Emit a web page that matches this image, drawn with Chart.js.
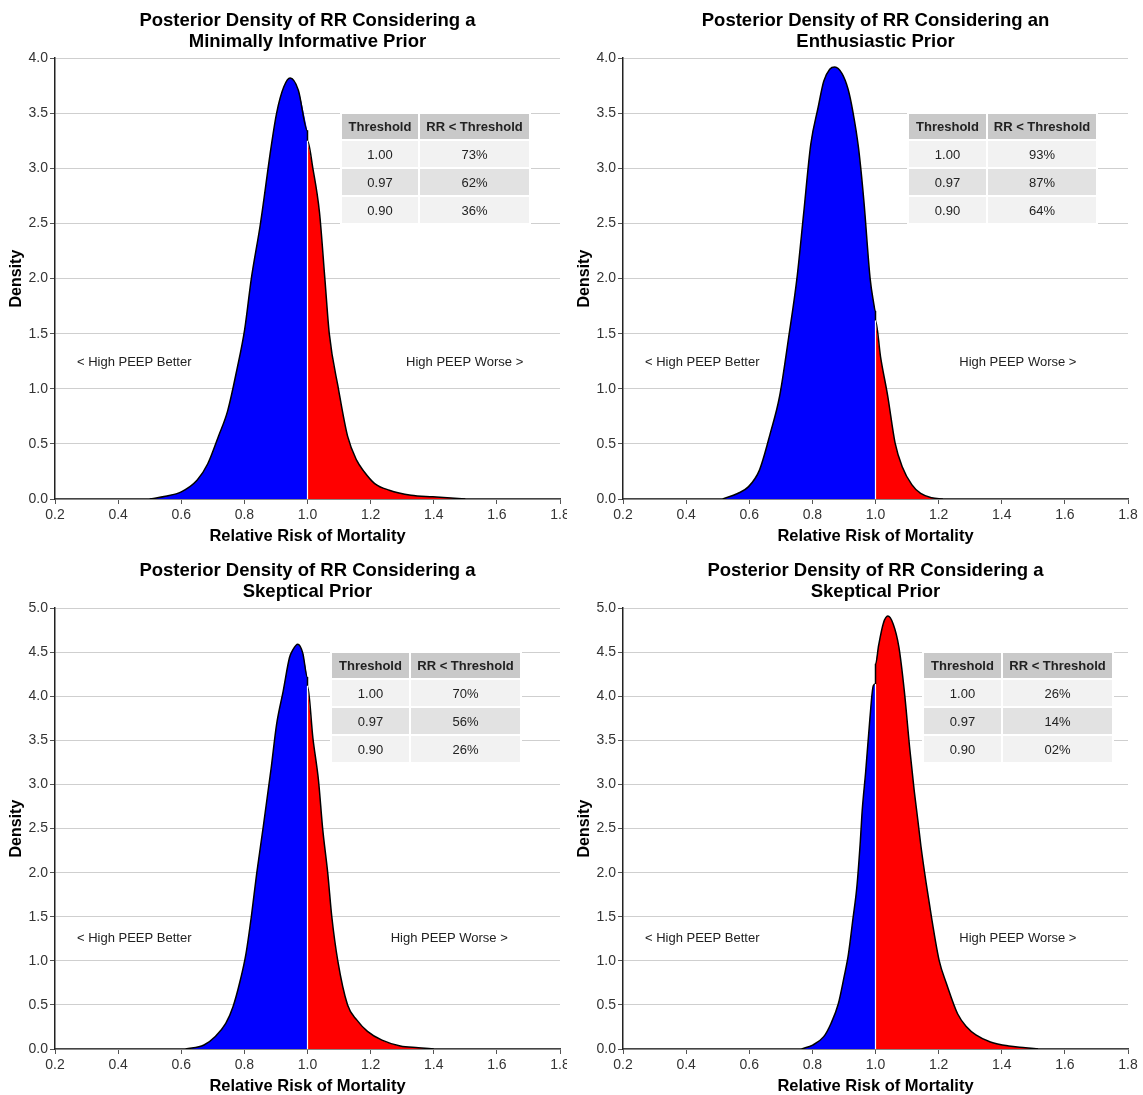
<!DOCTYPE html>
<html>
<head>
<meta charset="utf-8">
<script src="https://cdn.jsdelivr.net/npm/chart.js@4.4.1/dist/chart.umd.min.js"></script>
<style>
  body { margin: 0; background: #fff; font-family: "Liberation Sans", Arial, sans-serif; }
  #page { position: relative; width: 1143px; height: 1095px; overflow: hidden; }
  .panel { position: absolute; overflow: hidden; }
  .panel canvas { position: absolute; left: 0; top: 0; }
  table.thr { position: absolute; border-collapse: collapse; font-size: 13px; color: #222; }
  table.thr td, table.thr th { border: 2px solid #fff; text-align: center; padding: 0; }
  table.thr th { background: #c9c9c9; font-weight: bold; height: 25px; }
  table.thr td { height: 26px; }
  table.thr tr.r0 td { background: #f2f2f2; }
  table.thr tr.r1 td { background: #e2e2e2; }
</style>
</head>
<body>
<div id="page"></div>
<script>
// axis ticks
const xTickVals = [0.2, 0.4, 0.6, 0.8, 1.0, 1.2, 1.4, 1.6, 1.8];
const yTicksTop = [0, 0.5, 1.0, 1.5, 2.0, 2.5, 3.0, 3.5, 4.0];
const yTicksBottom = [0, 0.5, 1.0, 1.5, 2.0, 2.5, 3.0, 3.5, 4.0, 4.5, 5.0];

// panel 1: minimally informative prior
const blue1X = [0.50, 0.55, 0.60, 0.65, 0.684, 0.718, 0.747, 0.776, 0.801, 0.822, 0.851, 0.885, 0.902, 0.925, 0.945, 0.971, 1.0];
const blue1Y = [0.00, 0.025, 0.065, 0.17, 0.32, 0.57, 0.80, 1.17, 1.54, 2.0, 2.5, 3.2, 3.5, 3.74, 3.82, 3.71, 3.34];
const red1X = [1.0, 1.017, 1.038, 1.055, 1.069, 1.098, 1.127, 1.156, 1.179, 1.213, 1.259, 1.328, 1.397, 1.50];
const red1Y = [3.25, 3.0, 2.6, 2.0, 1.5, 1.0, 0.57, 0.35, 0.25, 0.14, 0.08, 0.035, 0.02, 0.0];

// panel 2: enthusiastic prior
const blue2X = [0.516, 0.563, 0.597, 0.632, 0.667, 0.696, 0.725, 0.751, 0.772, 0.795, 0.818, 0.836, 0.855, 0.871, 0.894, 0.913, 0.928, 0.946, 0.963, 0.983, 0.993, 1.0];
const blue2Y = [0.0, 0.05, 0.11, 0.26, 0.60, 0.93, 1.47, 2.0, 2.58, 3.22, 3.55, 3.79, 3.90, 3.92, 3.86, 3.72, 3.52, 3.19, 2.71, 2.0, 1.80, 1.70];
const red2X = [1.0, 1.016, 1.039, 1.062, 1.085, 1.115, 1.143, 1.178, 1.213];
const red2Y = [1.62, 1.29, 0.93, 0.51, 0.29, 0.13, 0.05, 0.012, 0.0];

// panel 3: skeptical prior (centred below 1)
const blue3X = [0.614, 0.672, 0.707, 0.741, 0.764, 0.787, 0.805, 0.822, 0.839, 0.859, 0.885, 0.902, 0.923, 0.943, 0.954, 0.969, 0.985, 1.0];
const blue3Y = [0.0, 0.045, 0.14, 0.29, 0.48, 0.78, 1.08, 1.5, 1.99, 2.5, 3.19, 3.68, 4.06, 4.44, 4.53, 4.59, 4.49, 4.21];
const red3X = [1.0, 1.017, 1.035, 1.048, 1.064, 1.077, 1.096, 1.127, 1.156, 1.19, 1.236, 1.294, 1.351, 1.40];
const red3Y = [4.12, 3.53, 3.04, 2.5, 2.0, 1.5, 1.0, 0.5, 0.33, 0.2, 0.1, 0.034, 0.015, 0.0];

// panel 4: skeptical prior (centred above 1)
const blue4X = [0.766, 0.801, 0.836, 0.859, 0.882, 0.900, 0.914, 0.929, 0.941, 0.952, 0.958, 0.969, 0.981, 0.993, 1.0];
const blue4Y = [0.0, 0.045, 0.14, 0.29, 0.51, 0.81, 1.07, 1.49, 1.84, 2.36, 2.71, 3.15, 3.69, 4.12, 4.14];
const red4X = [1.0, 1.010, 1.025, 1.039, 1.056, 1.074, 1.091, 1.109, 1.123, 1.134, 1.144, 1.161, 1.179, 1.202, 1.225, 1.260, 1.289, 1.318, 1.364, 1.422, 1.475, 1.515];
const red4Y = [4.36, 4.58, 4.83, 4.91, 4.82, 4.56, 4.07, 3.39, 2.92, 2.6, 2.3, 1.87, 1.46, 1.0, 0.74, 0.40, 0.25, 0.16, 0.08, 0.034, 0.015, 0.0];

// threshold tables
const thresholds = ['1.00', '0.97', '0.90'];
const pct1 = ['73%', '62%', '36%'];
const pct2 = ['93%', '87%', '64%'];
const pct3 = ['70%', '56%', '26%'];
const pct4 = ['26%', '14%', '02%'];

const panels = [
  { title: ['Posterior Density of RR Considering a', 'Minimally Informative Prior'],
    bx: blue1X, by: blue1Y, rx: red1X, ry: red1Y, yTicks: yTicksTop, pct: pct1,
    box: { left: 0, top: 0, width: 567 }, table: { left: 340, top: 112, c1: 76, c2: 109 },
    lab: { better: 0.451, worse: 1.498, y: 1.24 } },
  { title: ['Posterior Density of RR Considering an', 'Enthusiastic Prior'],
    bx: blue2X, by: blue2Y, rx: red2X, ry: red2Y, yTicks: yTicksTop, pct: pct2,
    box: { left: 568, top: 0, width: 575 }, table: { left: 339, top: 112, c1: 77, c2: 108 },
    lab: { better: 0.451, worse: 1.451, y: 1.24 } },
  { title: ['Posterior Density of RR Considering a', 'Skeptical Prior'],
    bx: blue3X, by: blue3Y, rx: red3X, ry: red3Y, yTicks: yTicksBottom, pct: pct3,
    box: { left: 0, top: 550, width: 567 }, table: { left: 330, top: 101, c1: 77, c2: 109 },
    lab: { better: 0.451, worse: 1.449, y: 1.25 } },
  { title: ['Posterior Density of RR Considering a', 'Skeptical Prior'],
    bx: blue4X, by: blue4Y, rx: red4X, ry: red4Y, yTicks: yTicksBottom, pct: pct4,
    box: { left: 568, top: 550, width: 575 }, table: { left: 354, top: 101, c1: 77, c2: 109 },
    lab: { better: 0.451, worse: 1.451, y: 1.25 } }
];

Chart.defaults.font.family = '"Liberation Sans", Arial, sans-serif';

function pts(xs, ys) {
  return xs.map((x, i) => ({ x: x, y: ys[i] }));
}

// white line at RR = 1 between the two shaded areas
const splitLine = {
  id: 'splitLine',
  afterDatasetsDraw(chart, args, opts) {
    const { ctx, scales: { x, y } } = chart;
    const top = Math.min(opts.blueEnd, opts.redStart);
    const px = x.getPixelForValue(1.0);
    ctx.save();
    ctx.strokeStyle = '#ffffff';
    ctx.lineWidth = 1.2;
    ctx.beginPath();
    ctx.moveTo(px, y.getPixelForValue(0));
    ctx.lineTo(px, y.getPixelForValue(top));
    ctx.stroke();
    ctx.restore();
  }
};

const sideLabels = {
  id: 'sideLabels',
  afterDatasetsDraw(chart, args, opts) {
    const { ctx, scales: { x, y } } = chart;
    ctx.save();
    ctx.font = '13px "Liberation Sans", Arial, sans-serif';
    ctx.fillStyle = '#222';
    ctx.textAlign = 'center';
    ctx.textBaseline = 'middle';
    ctx.fillText('< High PEEP Better', x.getPixelForValue(opts.better), y.getPixelForValue(opts.y));
    ctx.fillText('High PEEP Worse >', x.getPixelForValue(opts.worse), y.getPixelForValue(opts.y));
    ctx.restore();
  }
};

const page = document.getElementById('page');

panels.forEach(p => {
  const wrap = document.createElement('div');
  wrap.className = 'panel';
  wrap.style.left = p.box.left + 'px';
  wrap.style.top = p.box.top + 'px';
  wrap.style.width = p.box.width + 'px';
  wrap.style.height = '550px';
  const canvas = document.createElement('canvas');
  canvas.width = 572;
  canvas.height = 550;
  wrap.appendChild(canvas);

  const tbl = document.createElement('table');
  tbl.className = 'thr';
  tbl.style.left = p.table.left + 'px';
  tbl.style.top = p.table.top + 'px';
  let html = '<tr><th style="width:' + p.table.c1 + 'px">Threshold</th><th style="width:' + p.table.c2 + 'px">RR &lt; Threshold</th></tr>';
  thresholds.forEach((t, i) => {
    html += '<tr class="r' + (i % 2) + '"><td>' + t + '</td><td>' + p.pct[i] + '</td></tr>';
  });
  tbl.innerHTML = html;
  wrap.appendChild(tbl);
  page.appendChild(wrap);

  const yMax = p.yTicks[p.yTicks.length - 1];

  new Chart(canvas.getContext('2d'), {
    type: 'line',
    data: {
      datasets: [
        { data: pts(p.bx.concat(p.rx), p.by.concat(p.ry)), borderColor: '#000', borderWidth: 1.5,
          fill: false, pointRadius: 0, cubicInterpolationMode: 'monotone', order: 0 },
        { data: pts(p.bx, p.by), backgroundColor: '#0000ff', borderWidth: 0, fill: 'origin',
          pointRadius: 0, cubicInterpolationMode: 'monotone', order: 1 },
        { data: pts(p.rx, p.ry), backgroundColor: '#ff0000', borderWidth: 0, fill: 'origin',
          pointRadius: 0, cubicInterpolationMode: 'monotone', order: 1 }
      ]
    },
    options: {
      responsive: false,
      animation: false,
      layout: { padding: { left: 0, right: 12, top: 0, bottom: 0 } },
      plugins: {
        legend: { display: false },
        tooltip: { enabled: false },
        title: {
          display: true, text: p.title, fullSize: false, color: '#000',
          font: { size: 18.5, weight: 'bold', lineHeight: 1.14 },
          padding: { top: 10, bottom: 6 }
        },
        splitLine: { blueEnd: p.by[p.by.length - 1], redStart: p.ry[0] },
        sideLabels: p.lab
      },
      scales: {
        x: {
          type: 'linear', min: 0.2, max: 1.8,
          afterBuildTicks: s => { s.ticks = xTickVals.map(v => ({ value: v })); },
          afterFit: s => { s.height = 51; s.paddingLeft = 0; s.paddingRight = 0; },
          ticks: { font: { size: 14 }, color: '#333', padding: 3, maxRotation: 0,
                   callback: v => v.toFixed(1) },
          grid: { drawOnChartArea: false, tickLength: 5, color: '#555', tickColor: '#555' },
          border: { display: true, color: '#444', width: 1.5 },
          title: { display: true, text: 'Relative Risk of Mortality', color: '#000',
                   font: { size: 16.5, weight: 'bold' }, padding: { top: 0, bottom: 4 } }
        },
        y: {
          min: 0, max: yMax,
          afterBuildTicks: s => { s.ticks = p.yTicks.map(v => ({ value: v })); },
          afterFit: s => { s.width = 55; s.paddingTop = 0; s.paddingBottom = 0; },
          ticks: { font: { size: 14 }, color: '#333', padding: 2, callback: v => v.toFixed(1) },
          grid: { color: '#cfcfcf', lineWidth: 1, tickLength: 5, tickColor: '#555' },
          border: { display: true, color: '#222', width: 1.5 },
          title: { display: true, text: 'Density', color: '#000',
                   font: { size: 16, weight: 'bold' }, padding: { top: 7, bottom: 0 } }
        }
      }
    },
    plugins: [splitLine, sideLabels]
  });
});
</script>
</body>
</html>
